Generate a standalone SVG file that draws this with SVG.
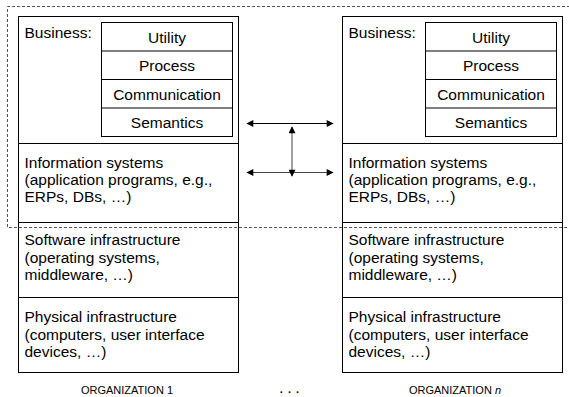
<svg xmlns="http://www.w3.org/2000/svg" width="569" height="397" viewBox="0 0 569 397">
  <defs>
    <style>
      .box { fill: #fff; stroke: #000; stroke-width: 1; }
      .line { stroke: #000; stroke-width: 1; fill: none; }
      .t { font-family: "Liberation Sans", Arial, sans-serif; font-size: 15.5px; fill: #000; }
      .c { text-anchor: middle; }
      .foot { font-family: "Liberation Sans", Arial, sans-serif; font-size: 11px; fill: #000; text-anchor: middle; }
      .dash { stroke: #555; stroke-width: 1; stroke-dasharray: 3 2; fill: none; }
    </style>
    <marker id="ah" viewBox="0 0 10 10" refX="9" refY="5" markerWidth="9" markerHeight="7" markerUnits="userSpaceOnUse" orient="auto-start-reverse">
      <path d="M0,0 L10,5 L0,10 z" fill="#000"/>
    </marker>
  </defs>
  <rect width="569" height="397" fill="#fff"/>

  <!-- organization 1 -->
  <g id="org1">
    <rect class="box" x="18.5" y="16.5" width="220" height="356"/>
    <path class="line" d="M18.5,143.5 H238.5 M18.5,222.5 H238.5 M18.5,297.5 H238.5"/>
    <text class="t" x="24.5" y="38">Business:</text>
    <g id="org1-layers">
      <rect class="box" x="101.5" y="22.5" width="131" height="114"/>
      <path class="line" d="M101.5,51 H232.5 M101.5,79.5 H232.5 M101.5,108 H232.5"/>
      <text class="t c" x="167" y="42.5">Utility</text>
      <text class="t c" x="167" y="71">Process</text>
      <text class="t c" x="167" y="99.5">Communication</text>
      <text class="t c" x="167" y="128">Semantics</text>
    </g>
    <text class="t" x="24.5" y="168">Information systems</text>
    <text class="t" x="24.5" y="185">(application programs, e.g.,</text>
    <text class="t" x="24.5" y="202">ERPs, DBs, …)</text>
    <text class="t" x="24.5" y="245">Software infrastructure</text>
    <text class="t" x="24.5" y="262.5">(operating systems,</text>
    <text class="t" x="24.5" y="280">middleware, …)</text>
    <text class="t" x="24.5" y="322">Physical infrastructure</text>
    <text class="t" x="24.5" y="339.5">(computers, user interface</text>
    <text class="t" x="24.5" y="357">devices,  …)</text>
  </g>

  <!-- organization n -->
  <g id="orgn">
    <rect class="box" x="342.5" y="16.5" width="220" height="356"/>
    <path class="line" d="M342.5,143.5 H562.5 M342.5,222.5 H562.5 M342.5,297.5 H562.5"/>
    <text class="t" x="348.5" y="38">Business:</text>
    <g id="orgn-layers">
      <rect class="box" x="425.5" y="22.5" width="131" height="114"/>
      <path class="line" d="M425.5,51 H556.5 M425.5,79.5 H556.5 M425.5,108 H556.5"/>
      <text class="t c" x="491" y="42.5">Utility</text>
      <text class="t c" x="491" y="71">Process</text>
      <text class="t c" x="491" y="99.5">Communication</text>
      <text class="t c" x="491" y="128">Semantics</text>
    </g>
    <text class="t" x="348.5" y="168">Information systems</text>
    <text class="t" x="348.5" y="185">(application programs, e.g.,</text>
    <text class="t" x="348.5" y="202">ERPs, DBs, …)</text>
    <text class="t" x="348.5" y="245">Software infrastructure</text>
    <text class="t" x="348.5" y="262.5">(operating systems,</text>
    <text class="t" x="348.5" y="280">middleware, …)</text>
    <text class="t" x="348.5" y="322">Physical infrastructure</text>
    <text class="t" x="348.5" y="339.5">(computers, user interface</text>
    <text class="t" x="348.5" y="357">devices,  …)</text>
  </g>

  <!-- interoperability boundary -->
  <path id="boundary" class="dash" d="M570,6.5 H7.5 V227.5 H570"/>

  <!-- connectors -->
  <g id="connectors">
    <line x1="247" y1="123.5" x2="333" y2="123.5" stroke="#000" stroke-width="1.2" marker-start="url(#ah)" marker-end="url(#ah)"/>
    <line x1="247" y1="172.5" x2="333" y2="172.5" stroke="#444" stroke-width="1.2" marker-start="url(#ah)" marker-end="url(#ah)"/>
    <line x1="292" y1="127" x2="292" y2="176" stroke="#888" stroke-width="1.6" marker-start="url(#ah)" marker-end="url(#ah)"/>
  </g>

  <text class="foot" x="127" y="394">ORGANIZATION 1</text>
  <text class="foot" x="290" y="393" font-weight="bold" font-size="15" letter-spacing="1">. . .</text>
  <text class="foot" x="455" y="394">ORGANIZATION <tspan font-style="italic">n</tspan></text>
</svg>
